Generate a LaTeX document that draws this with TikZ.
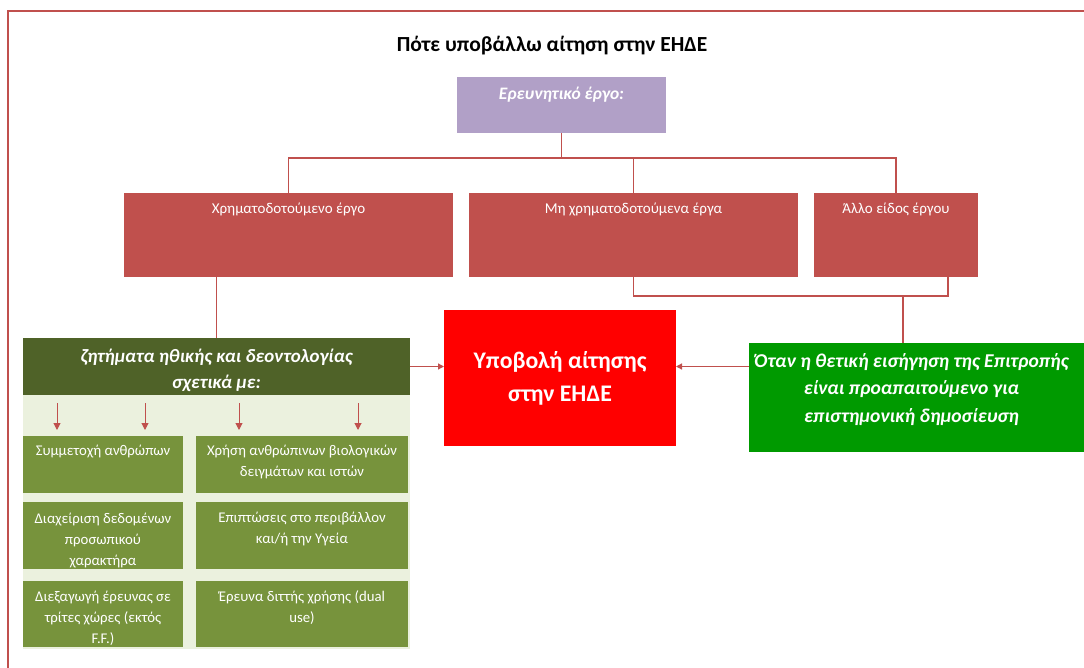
\documentclass[tikz,border=0pt]{standalone}
\usepackage{fontspec}
\setmainfont{Carlito}
\usetikzlibrary{arrows.meta}
\definecolor{framered}{HTML}{C0504D}
\definecolor{lilac}{HTML}{B1A0C7}
\definecolor{brick}{HTML}{C0504D}
\definecolor{brightred}{HTML}{FF0000}
\definecolor{leafgreen}{HTML}{009A00}
\definecolor{darkolive}{HTML}{4F6228}
\definecolor{palegreen}{HTML}{EBF1DE}
\definecolor{olive}{HTML}{77933C}
\definecolor{connred}{HTML}{C0504D}
\begin{document}
\begin{tikzpicture}[x=1pt,y=-1pt,
  box/.style={draw=none,rectangle,inner sep=0pt,outer sep=0pt},
  lbl/.style={inner sep=0pt,text=white,align=center,anchor=north,font=\fontsize{14.8}{21}\selectfont},
  conn/.style={draw=connred,line width=1.2pt},
  arr/.style={conn,-{Triangle[length=6pt,width=6pt]}},
  smallarr/.style={draw=connred,line width=1pt,-{Triangle[length=7pt,width=7pt]}}]
\useasboundingbox (0,0) rectangle (1084,668);
% frame
\draw[draw=framered,line width=1.5pt] (8,668) -- (8,11) -- (1084,11);
% title
\node[inner sep=0pt,font=\fontsize{21.5}{25}\selectfont\bfseries] (title) at (552,45.5) {Πότε υποβάλλω αίτηση στην ΕΗΔΕ};
% top box
\node[box,fill=lilac,minimum width=209pt,minimum height=56pt] (research) at (561.5,105) {};
\node[lbl,font=\fontsize{17.5}{21}\selectfont\bfseries\itshape] (researcht) at ([yshift=-10pt]research.north) {Ερευνητικό έργο:};
% second row
\node[box,fill=brick,minimum width=329pt,minimum height=84pt] (fund) at (288.5,235) {};
\node[box,fill=brick,minimum width=329pt,minimum height=84pt] (nonfund) at (633.5,235) {};
\node[box,fill=brick,minimum width=164pt,minimum height=84pt] (other) at (896,235) {};
\node[lbl,font=\fontsize{15}{21}\selectfont] (fundt) at ([yshift=-10pt]fund.north) {Χρηματοδοτούμενο έργο};
\node[lbl,font=\fontsize{15}{21}\selectfont] (nonfundt) at ([yshift=-10pt]nonfund.north) {Μη χρηματοδοτούμενα έργα};
\node[lbl,font=\fontsize{15}{21}\selectfont] (othert) at ([yshift=-10pt]other.north) {Άλλο είδος έργου};
% submit box
\node[box,fill=brightred,minimum width=232pt,minimum height=136pt,text=white,align=center,
  font=\fontsize{23.8}{33}\selectfont\bfseries] (submit) at (560,378) {Υποβολή αίτησης\\στην ΕΗΔΕ};
% right green box
\node[box,fill=leafgreen,minimum width=335pt,minimum height=109pt] (when) at (916.5,397.5) {};
\node[inner sep=0pt,text=white,align=center,font=\fontsize{19.6}{27.5}\selectfont\bfseries\itshape]
  (whent) at ([xshift=-5pt,yshift=8pt]when.center)
  {Όταν η θετική εισήγηση της Επιτροπής\\είναι προαπαιτούμενο για\\επιστημονική δημοσίευση};
% left panel
\node[box,fill=palegreen,minimum width=387pt,minimum height=255pt] (panel) at (216.5,521.5) {};
\node[box,fill=darkolive,minimum width=387pt,minimum height=57pt] (ethics) at (216.5,366.5) {};
\node[inner sep=0pt,text=white,align=center,font=\fontsize{18.9}{26}\selectfont\bfseries\itshape]
  (ethicst) at ([yshift=-3.5pt]ethics.center)
  {ζητήματα ηθικής και δεοντολογίας\\σχετικά με:};
% small boxes
\node[box,fill=olive,minimum width=160pt,minimum height=57pt] (humans) at (103,464.5) {};
\node[box,fill=olive,minimum width=212pt,minimum height=57pt] (tissues) at (302,464.5) {};
\node[box,fill=olive,minimum width=160pt,minimum height=67pt] (data) at (103,535.5) {};
\node[box,fill=olive,minimum width=212pt,minimum height=67pt] (environ) at (302,535.5) {};
\node[box,fill=olive,minimum width=160pt,minimum height=66pt] (third) at (103,614) {};
\node[box,fill=olive,minimum width=212pt,minimum height=66pt] (dualuse) at (302,614) {};
\node[lbl] (humanst) at ([yshift=-9pt]humans.north) {Συμμετοχή ανθρώπων};
\node[lbl] (tissuest) at ([yshift=-9pt]tissues.north) {Χρήση ανθρώπινων βιολογικών\\δειγμάτων και ιστών};
\node[lbl] (datat) at ([yshift=-10.5pt]data.north) {Διαχείριση δεδομένων\\προσωπικού\\χαρακτήρα};
\node[lbl] (environt) at ([yshift=-10pt]environ.north) {Επιπτώσεις στο περιβάλλον\\και/ή την Υγεία};
\node[lbl] (thirdt) at ([yshift=-9.5pt]third.north) {Διεξαγωγή έρευνας σε\\τρίτες χώρες (εκτός\\F.F.)};
\node[lbl] (dualuset) at ([yshift=-9.5pt]dualuse.north) {Έρευνα διττής χρήσης (dual\\use)};
% connectors
\coordinate (bus1) at (561.5,158);
\draw[conn] (research.south) -- (bus1);
\draw[conn] (fund.north) |- (bus1) -| (other.north);
\draw[conn] (nonfund.north) -- (nonfund.north |- bus1);
\draw[conn] (ethics.north |- fund.south) -- (ethics.north);
\coordinate (otherfoot) at (948,277);
\coordinate (bus2) at (903,296);
\draw[conn] (nonfund.south) |- (bus2) -| (otherfoot);
\draw[conn] (bus2) -- (bus2 |- when.north);
\draw[arr] (ethics.east) -- (ethics.east -| submit.west);
\draw[arr] (when.west |- ethics.east) -- (submit.east |- ethics.east);
% small arrows
\foreach \i/\xx in {1/57,2/145,3/239,4/358}{
  \coordinate (s\i) at (\xx,403);
  \coordinate (e\i) at (\xx,430);
  \draw[smallarr] (s\i) -- (e\i);
}
\end{tikzpicture}
\end{document}
